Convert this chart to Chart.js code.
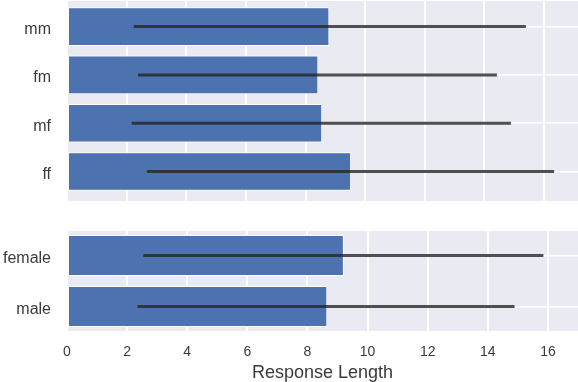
<!DOCTYPE html>
<html>
<head>
<meta charset="utf-8">
<script src="https://cdn.jsdelivr.net/npm/chart.js@4"></script>
<style>
  body { margin: 0; background: #fff; width: 578px; height: 382px; position: relative; overflow: hidden; }
  canvas { position: absolute; left: 0; }
  #top { top: 0; }
  #bottom { top: 231px; }
</style>
</head>
<body>
<canvas id="top" width="578" height="201"></canvas>
<canvas id="bottom" width="578" height="151"></canvas>
<script>
// pair type panel
const pairLabels = ['mm', 'fm', 'mf', 'ff'];
const pairMeans = [8.80, 8.43, 8.56, 9.53];
const pairLow = [2.24, 2.38, 2.17, 2.68];
const pairHigh = [15.39, 14.42, 14.89, 16.34];

// gender panel
const sexLabels = ['female', 'male'];
const sexMeans = [9.21, 8.66];
const sexLow = [2.54, 2.35];
const sexHigh = [15.85, 14.89];

const xTitle = 'Response Length';

const FONT = '"Liberation Sans", Arial, sans-serif';
const TEXT = '#3a3a3a';

// grey panel background
const panelBg = {
    id: 'panelBg',
    beforeDraw(chart) {
        const a = chart.chartArea;
        const ctx = chart.ctx;
        ctx.save();
        ctx.fillStyle = '#EAEAF2';
        ctx.fillRect(a.left, a.top, a.right - a.left, a.bottom - a.top);
        ctx.restore();
    }
};

// error bars, drawn with the chart's own scales
function errorBars(low, high) {
    return {
        id: 'errorBars',
        afterDatasetsDraw(chart) {
            const x = chart.scales.x, y = chart.scales.y, ctx = chart.ctx;
            ctx.save();
            ctx.strokeStyle = 'rgba(38,38,38,0.8)';
            ctx.lineWidth = 3;
            low.forEach((lo, i) => {
                const py = y.getPixelForValue(i);
                ctx.beginPath();
                ctx.moveTo(x.getPixelForValue(lo), py);
                ctx.lineTo(x.getPixelForValue(high[i]), py);
                ctx.stroke();
            });
            ctx.restore();
        }
    };
}

function noPad(s) {
    s.paddingTop = 0;
    s.paddingBottom = 0;
    s.paddingLeft = 0;
    s.paddingRight = 0;
}

function makeChart(el, labels, means, low, high, yMin, yMax, xMax, showX) {
    return new Chart(el, {
        type: 'bar',
        data: {
            datasets: [{
                data: means.map((v, i) => ({ x: v, y: i })),
                backgroundColor: '#4C72B0',
                borderColor: '#ffffff',
                borderWidth: 1,
                borderSkipped: false,
                categoryPercentage: 1,
                barPercentage: 0.8
            }]
        },
        options: {
            indexAxis: 'y',
            responsive: false,
            animation: false,
            layout: { padding: { top: showX ? 0 : 1, right: 0, left: 0, bottom: 0 } },
            plugins: { legend: { display: false }, tooltip: { enabled: false } },
            scales: {
                x: {
                    type: 'linear',
                    min: 0,
                    max: xMax,
                    border: { display: false },
                    grid: { color: '#ffffff', lineWidth: 2, drawTicks: false },
                    ticks: {
                        display: showX,
                        stepSize: 2,
                        includeBounds: false,
                        padding: 13,
                        color: TEXT,
                        font: { family: FONT, size: 14 }
                    },
                    title: {
                        display: showX,
                        text: xTitle,
                        color: TEXT,
                        font: { family: FONT, size: 18, lineHeight: 1 },
                        padding: { top: 0, bottom: 0 }
                    },
                    afterFit: s => { s.height = showX ? 51 : 0; noPad(s); }
                },
                y: {
                    type: 'linear',
                    reverse: true,
                    offset: false,
                    min: yMin,
                    max: yMax,
                    border: { display: false },
                    grid: { color: '#ffffff', lineWidth: 1.5, drawTicks: false, offset: false },
                    ticks: {
                        stepSize: 1,
                        includeBounds: false,
                        padding: 16,
                        labelOffset: 3,
                        color: TEXT,
                        font: { family: FONT, size: 16 },
                        callback: v => labels[v]
                    },
                    afterFit: s => { s.width = 67; noPad(s); }
                }
            }
        },
        plugins: [panelBg, errorBars(low, high)]
    });
}

makeChart(document.getElementById('top'), pairLabels, pairMeans, pairLow, pairHigh, -0.53, 3.61, 17.14, false);
makeChart(document.getElementById('bottom'), sexLabels, sexMeans, sexLow, sexHigh, -0.48, 1.48, 17.0, true);
</script>
</body>
</html>
